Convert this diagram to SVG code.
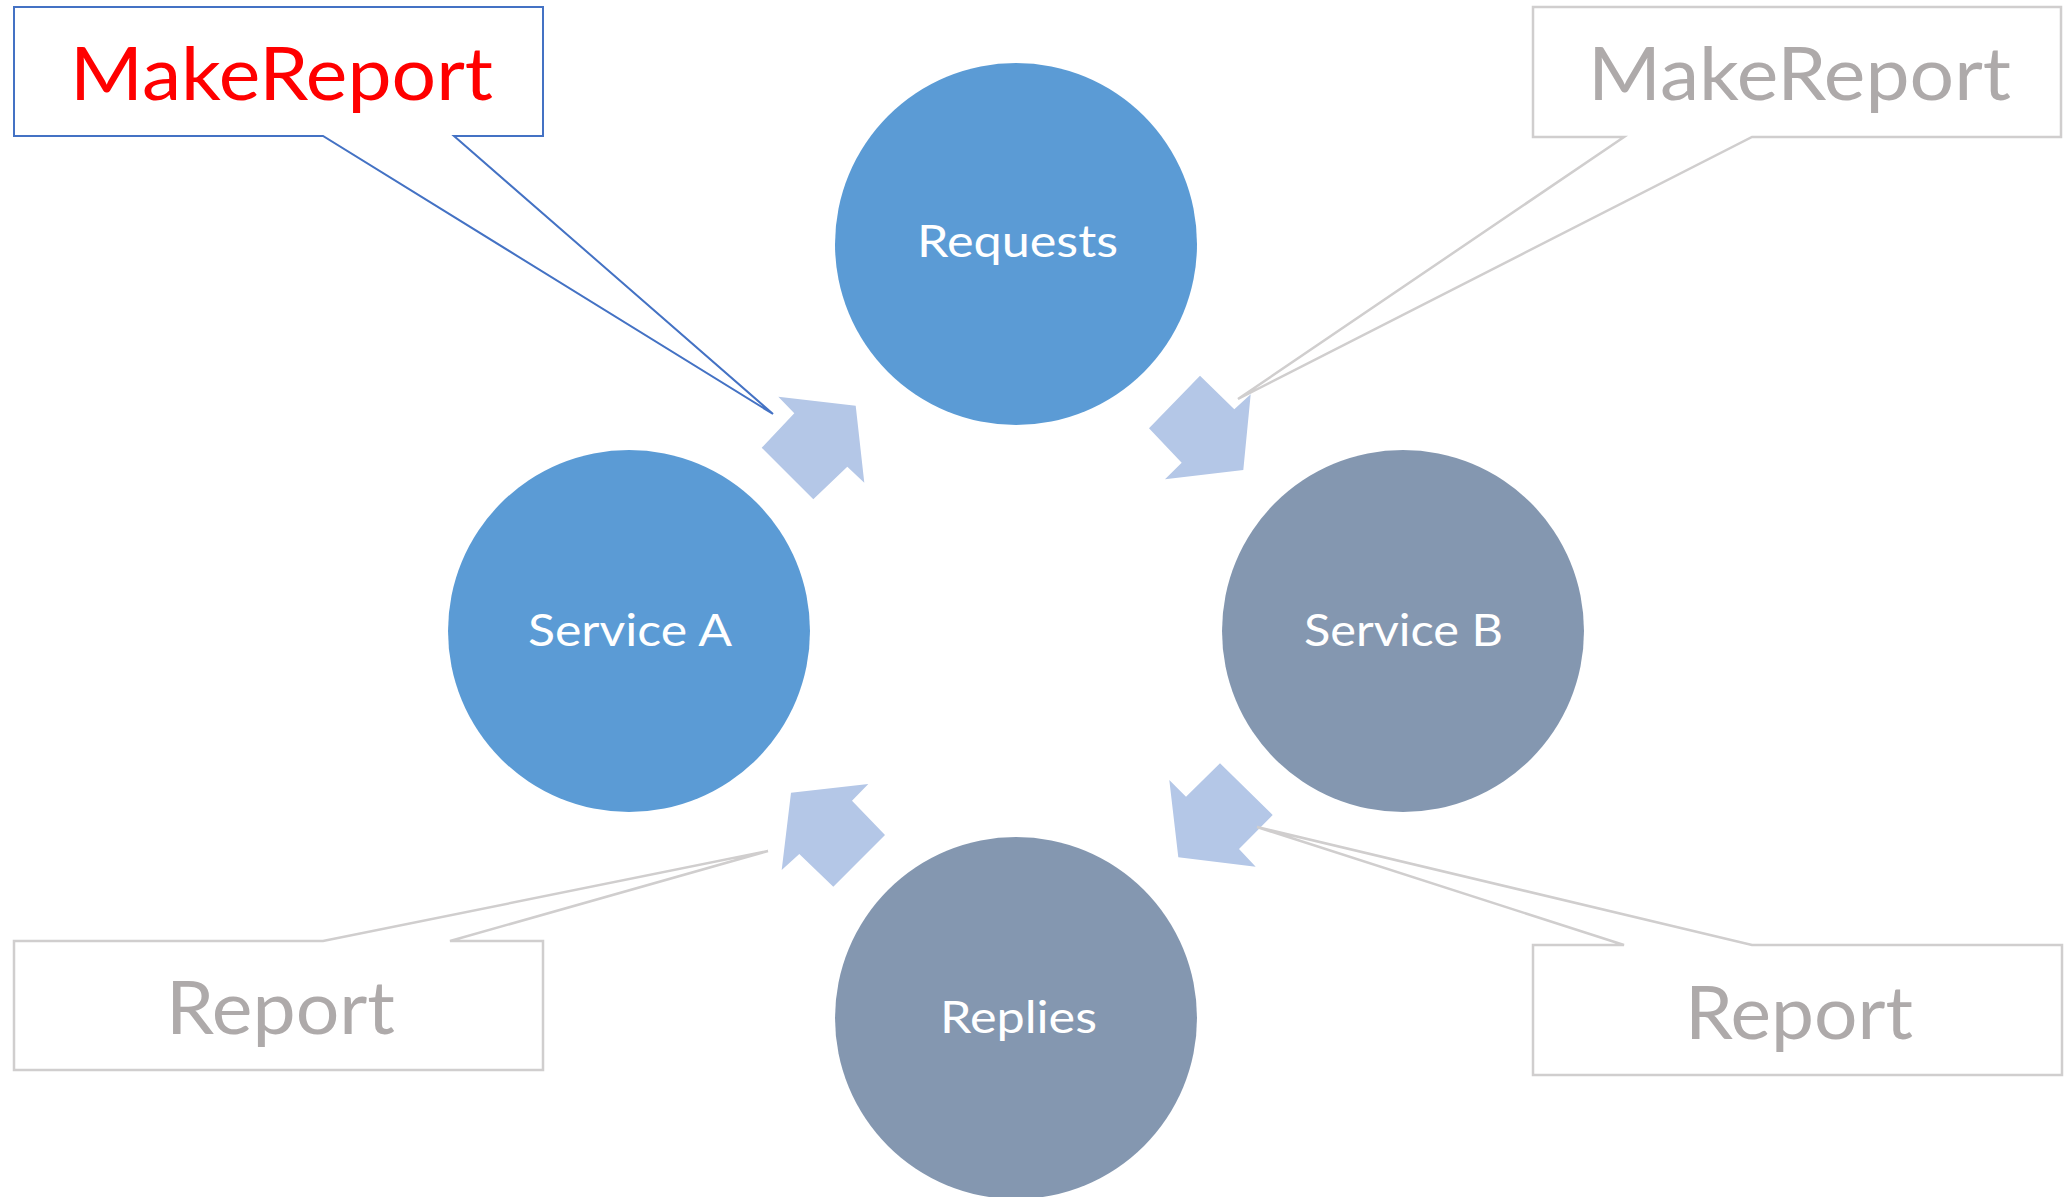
<svg xmlns="http://www.w3.org/2000/svg" width="2066" height="1197" viewBox="0 0 2066 1197">
  <style>
    .blue { fill: #5B9BD5; }
    .slate { fill: #8497B0; }
    .label { font-family: Lato, "Open Sans", "Liberation Sans", sans-serif; fill: #FFFFFF; font-size: 45px; }
    .flow { fill: #B4C7E7; stroke: none; }
    .callout { fill: #FFFFFF; stroke-linejoin: miter; }
    .callout-active { stroke: #4472C4; stroke-width: 2; }
    .callout-muted { stroke: #D0CECE; stroke-width: 2.5; }
    .ctext { font-family: Lato, "Open Sans", "Liberation Sans", sans-serif; font-size: 74px; }
  </style>

  <rect width="2066" height="1197" fill="#FFFFFF"/>

  <!-- cycle nodes -->
  <g id="requests">
    <circle class="blue" cx="1016" cy="244" r="181"/>
    <text class="label" x="917" y="257" textLength="201" lengthAdjust="spacingAndGlyphs">Requests</text>
  </g>
  <g id="service-a">
    <circle class="blue" cx="629" cy="631" r="181"/>
    <text class="label" x="528" y="646" textLength="204" lengthAdjust="spacingAndGlyphs">Service A</text>
  </g>
  <g id="service-b">
    <circle class="slate" cx="1403" cy="631" r="181"/>
    <text class="label" x="1304" y="646" textLength="199" lengthAdjust="spacingAndGlyphs">Service B</text>
  </g>
  <g id="replies">
    <circle class="slate" cx="1016" cy="1018" r="181"/>
    <text class="label" x="940" y="1033" textLength="157" lengthAdjust="spacingAndGlyphs">Replies</text>
  </g>

  <!-- cycle arrows -->
  <g id="connectors">
    <polygon class="flow" points="778.3,396.7 855.7,405.7 864.3,482.7 847.3,466.7 813.3,499.3 761.7,447.7 794.3,413.3"/>
    <polygon class="flow" points="1200,375.7 1234.3,409.3 1250.7,394.3 1243.3,470 1165,479.3 1181.7,462.7 1149,428.3"/>
    <polygon class="flow" points="1220,763.3 1272.7,815 1239,849 1255.7,866.7 1178.3,857.3 1169.3,780 1186,796.7"/>
    <polygon class="flow" points="791,792.7 868.3,784 852,800.7 885,835 833.3,886.7 799.3,854 781.7,870"/>
  </g>

  <!-- callouts -->
  <g id="callout-makereport-a">
    <path class="callout callout-active" d="M14,7 H543 V136 H454 L773,414 L323,136 H14 Z"/>
    <text class="ctext" x="70" y="100" fill="#FF0000" textLength="423" lengthAdjust="spacingAndGlyphs">MakeReport</text>
  </g>
  <g id="callout-makereport-b">
    <path class="callout callout-muted" d="M1533,7 H2061 V137 H1752 L1238,399 L1624,137 H1533 Z"/>
    <text class="ctext" x="1588" y="100" fill="#AEAAAA" textLength="423" lengthAdjust="spacingAndGlyphs">MakeReport</text>
  </g>
  <g id="callout-report-a">
    <path class="callout callout-muted" d="M14,941 H323 L768,851 L450,941 H543 V1070 H14 Z"/>
    <text class="ctext" x="166" y="1034" fill="#AEAAAA" font-size="73" textLength="229" lengthAdjust="spacingAndGlyphs">Report</text>
  </g>
  <g id="callout-report-b">
    <path class="callout callout-muted" d="M1533,945 H1624 L1257,827 L1752,945 H2062 V1075 H1533 Z"/>
    <text class="ctext" x="1685" y="1039" fill="#AEAAAA" font-size="73" textLength="228" lengthAdjust="spacingAndGlyphs">Report</text>
  </g>
</svg>
